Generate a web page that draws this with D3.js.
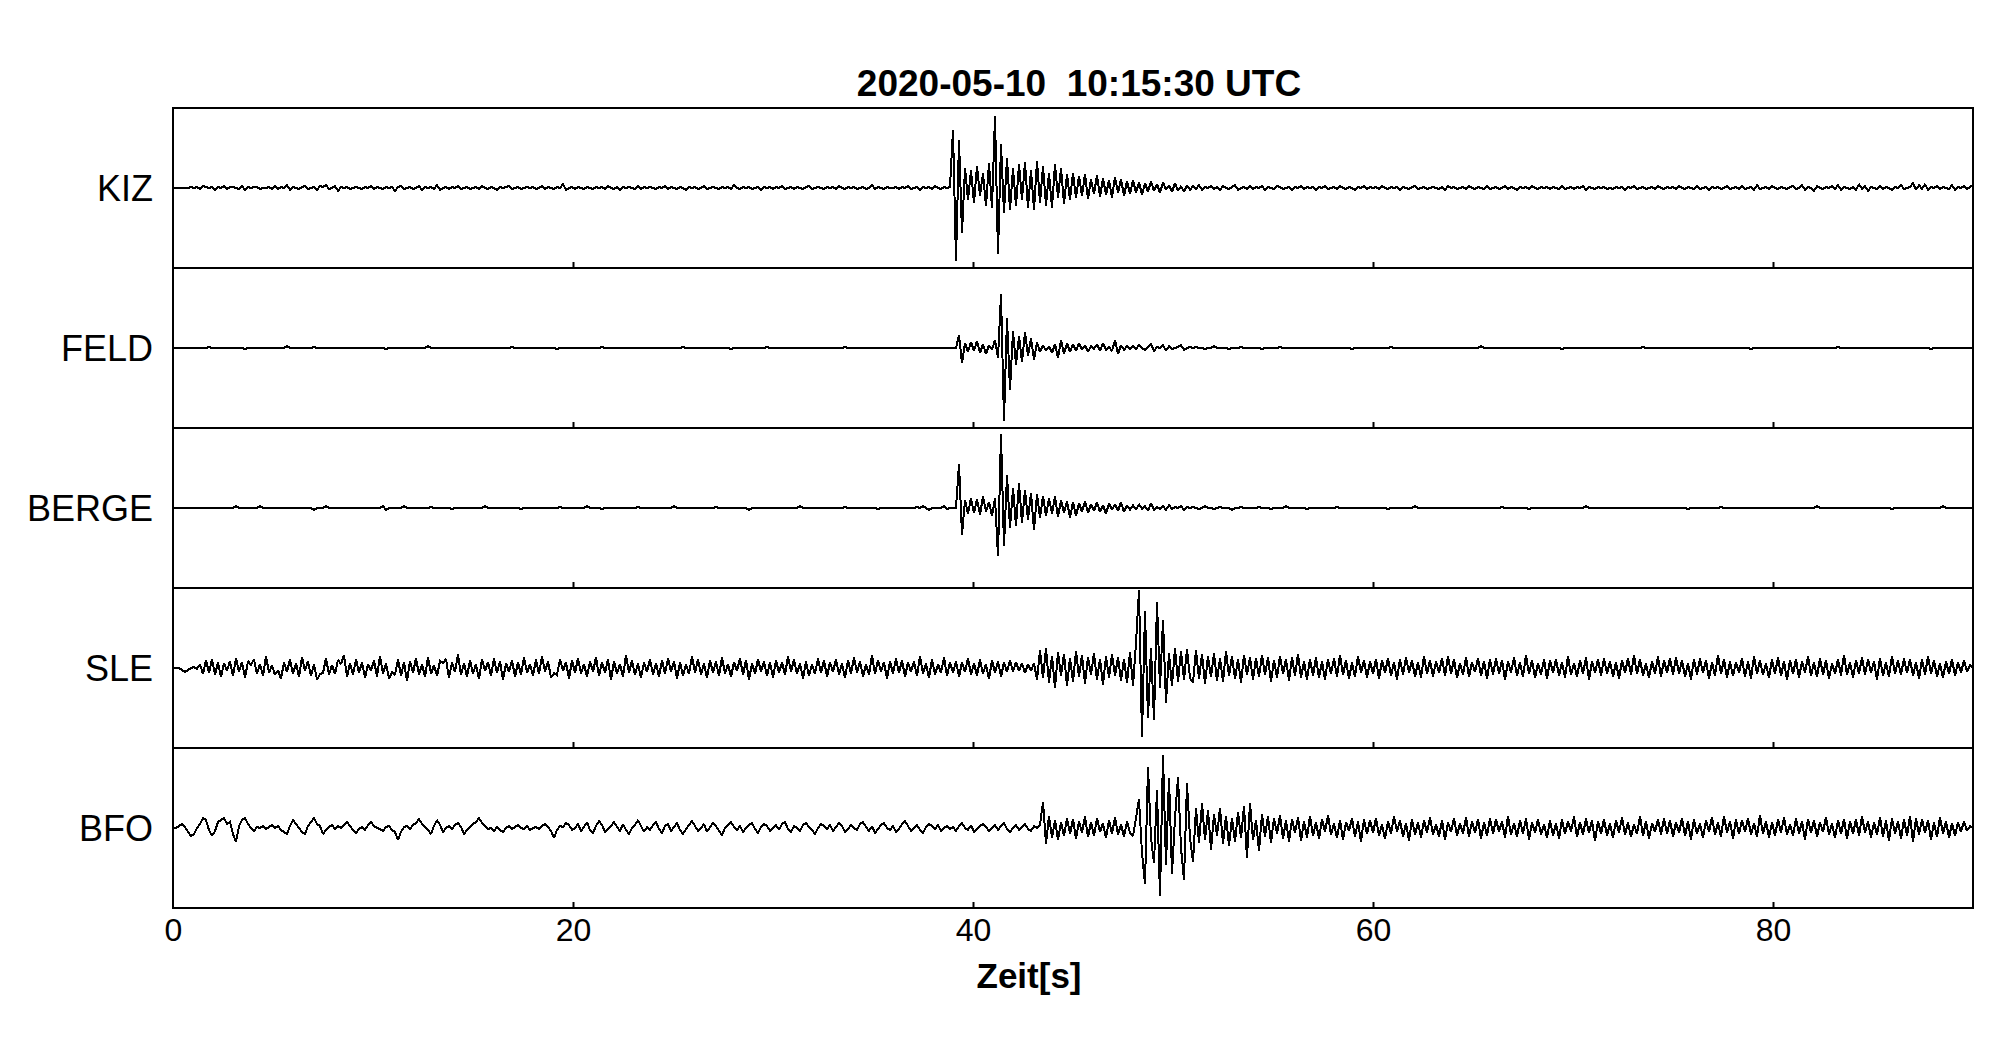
<!DOCTYPE html>
<html>
<head>
<meta charset="utf-8">
<script src="https://cdn.jsdelivr.net/npm/d3@7"></script>
<style>
  html, body { margin: 0; padding: 0; background: #fff; }
  svg { display: block; }
</style>
</head>
<body>
<div id="chart"></div>
<script>
// ---------------- data ----------------
const title = "2020-05-10  10:15:30 UTC";
const xLabel = "Zeit[s]";
const stations = ["KIZ", "FELD", "BERGE", "SLE", "BFO"];
const xTicks = [0, 20, 40, 60, 80];
const xDomain = [0, 90];
const sampleInterval = 0.15; // seconds between samples
const ampDomain = [-80, 80];

const kiz = [
0,0,0,0,0,0,1,0,1,-1,2,1,0,1,-2,1,0,2,-1,1,
1,0,-1,2,-2,1,0,1,1,-1,0,0,1,-1,2,-1,1,0,3,-2,
1,0,-1,1,2,-1,0,1,-2,2,1,3,-1,0,2,-3,1,0,1,-1,
0,1,0,-1,1,0,2,-1,1,0,-1,1,0,1,-3,1,2,-1,0,1,
-1,0,2,-2,1,0,1,-1,3,-2,0,1,-1,1,0,2,-1,0,1,-1,
0,1,-1,2,0,-1,1,0,-2,1,0,1,2,-1,0,1,-1,0,1,0,
1,-1,0,2,-1,1,0,-1,1,0,4,-2,0,1,-1,1,0,-1,1,0,
-1,1,0,1,-1,2,0,-1,1,-2,1,0,1,0,-1,2,-1,1,0,1,
0,-1,1,0,2,-1,1,0,-1,1,0,-2,1,0,1,-1,0,2,-1,0,
1,0,-1,1,0,1,-1,3,0,-1,1,0,1,-1,0,1,-2,1,0,1,
-1,1,0,2,-1,0,1,-1,1,0,-1,1,2,-1,0,1,0,-1,1,0,
1,-1,2,0,-1,1,0,1,-1,0,1,-1,0,3,-1,1,0,-1,1,0,
0,1,-1,1,0,2,-1,0,1,-2,1,0,1,-1,2,0,-1,1,0,1,
58,-73,48,-45,20,-12,18,-15,22,-8,15,-18,25,-20,72,-66,44,-25,30,-22,
20,-18,24,-12,26,-20,18,-22,27,-15,22,-18,15,-20,24,-10,20,-16,14,-12,
15,-10,12,-8,14,-11,9,-6,13,-9,10,-7,8,-10,11,-5,9,-8,7,-6,
8,-5,6,-7,5,-4,7,-3,4,-5,6,-2,3,-4,5,-3,2,-4,3,-2,
2,-1,3,-2,1,0,2,-1,1,-2,2,0,-1,1,3,-2,0,1,-1,2,
-1,1,0,2,-2,1,0,-1,2,1,-1,0,1,-2,1,0,2,-1,1,0,
1,-2,1,0,2,-1,0,1,-1,2,0,-1,1,0,-2,1,0,2,-1,1,
0,1,-1,2,0,-1,1,0,1,-2,1,0,-1,1,2,-1,0,1,-1,0,
1,0,-1,1,-2,2,0,1,-1,0,1,-1,2,0,-1,1,0,-1,2,-1,
0,1,-1,0,2,-1,1,0,-2,1,0,1,-1,2,0,-1,1,0,1,-1,
1,0,-1,2,-1,0,1,-1,1,0,2,-2,1,0,-1,1,0,1,-1,0,
-1,1,0,1,-2,1,0,2,-1,0,1,-1,0,1,-1,2,0,-1,1,0,
1,-1,2,0,-1,1,0,-1,2,-1,0,1,-2,1,0,1,-1,0,2,-1,
0,1,-1,2,-1,0,1,-2,3,-1,0,1,-1,2,0,-1,1,0,-1,1,
2,-1,0,3,-2,1,0,-3,2,0,-1,1,0,2,-1,3,-2,1,0,-1,
1,-2,4,-1,2,-3,1,0,-1,2,-1,1,0,-2,1,0,3,-1,0,1,
5,-2,3,-1,4,-2,1,0,2,-1,1,0,-1,3,-2,1,0,2,-1,1,
3];

const feld = [
0,0,0,0,0,0,0,0,0,0,0,0,1,0,0,0,0,0,0,0,
0,0,0,0,-1,0,0,0,0,0,0,0,0,0,0,0,0,0,2,0,
0,0,0,0,0,0,0,1,0,0,0,0,0,0,0,0,0,0,0,0,
0,0,0,0,0,0,0,0,0,0,0,-1,0,0,0,0,0,0,0,0,
0,0,0,0,0,2,0,0,0,0,0,0,0,0,0,0,0,0,0,0,
0,0,0,0,0,0,0,0,0,0,0,0,0,1,0,0,0,0,0,0,
0,0,0,0,0,0,0,0,-1,0,0,0,0,0,0,0,0,0,0,0,
0,0,0,1,0,0,0,0,0,0,0,0,0,0,0,0,0,0,0,0,
0,0,0,0,0,0,0,0,0,0,1,0,0,0,0,0,0,0,0,0,
0,0,0,0,0,0,-1,0,0,0,0,0,0,0,0,0,0,0,1,0,
0,0,0,0,0,0,0,0,0,0,0,0,0,0,0,0,0,0,0,0,
0,0,0,0,1,0,0,0,0,0,0,0,0,0,0,0,0,0,0,0,
0,0,0,0,0,0,0,0,0,0,0,0,0,0,0,0,0,0,0,0,
0,0,13,-15,5,-4,6,-3,7,-5,4,-6,3,-2,8,-10,54,-73,30,-42,
17,-17,12,-14,16,-8,10,-12,6,-4,3,-3,2,-5,4,-10,8,-6,5,-4,
4,-3,5,-2,3,-4,2,-1,4,-3,5,-2,1,-3,8,-6,3,-2,2,-1,
2,-1,3,0,-2,1,4,-3,1,0,3,-3,2,-1,0,1,3,-2,0,1,
0,1,0,0,-1,0,0,2,0,0,0,0,-1,0,0,0,1,0,0,0,
0,0,0,-1,0,0,0,0,0,1,0,0,0,0,0,0,0,0,0,0,
0,0,0,0,0,0,0,0,0,0,0,0,0,-1,0,0,0,0,0,0,
0,0,0,0,0,0,1,0,0,0,0,0,0,0,0,0,0,0,0,0,
0,0,0,0,0,0,0,0,0,0,0,0,0,0,0,0,2,0,0,0,
0,0,0,0,0,0,0,0,0,0,0,0,0,0,0,0,0,0,0,0,
0,0,0,-1,0,0,0,0,0,0,0,0,0,0,0,0,0,0,0,0,
0,0,0,0,0,0,0,0,0,0,1,0,0,0,0,0,0,0,0,0,
0,0,0,0,0,0,0,0,0,0,0,0,0,0,0,0,0,0,0,0,
0,0,0,0,0,0,-1,0,0,0,0,0,0,0,0,0,0,0,0,0,
0,0,0,0,0,0,0,0,0,0,0,0,0,0,0,1,0,0,0,0,
0,0,0,0,0,0,0,0,0,0,0,0,0,0,0,0,0,0,0,0,
0,0,0,0,0,0,-1,0,0,0,0,0,0,0,0,0,0,0,0,0,
0];

const berge = [
0,0,0,0,0,0,0,0,0,0,0,0,0,0,0,0,0,0,0,0,
0,2,0,0,0,0,0,0,0,2,0,0,0,0,0,0,0,0,0,0,
0,0,0,0,0,0,0,-2,0,0,0,2,0,0,0,0,0,0,0,0,
0,0,0,0,0,0,0,0,0,0,2,-2,0,0,0,0,0,2,0,0,
0,0,0,0,0,0,1,0,0,0,0,0,0,-1,0,0,0,0,0,0,
0,0,0,0,2,0,0,0,0,0,0,0,0,0,0,0,-1,0,0,0,
0,0,0,0,0,0,0,0,0,1,0,0,0,0,0,0,0,0,2,0,
0,0,0,-1,0,0,0,0,0,0,0,0,0,0,0,1,0,0,0,0,
0,0,0,0,0,0,0,2,0,0,0,0,0,0,0,0,0,0,0,0,
0,1,0,0,0,0,0,0,0,0,0,0,-2,0,0,0,0,0,0,0,
0,0,0,0,0,0,0,0,0,2,0,0,0,0,0,0,0,0,0,0,
0,0,0,0,1,0,0,0,0,0,0,0,0,0,0,-1,0,0,0,0,
0,0,0,0,0,0,0,0,1,0,2,0,-2,0,0,0,0,2,-1,0,
0,0,44,-27,8,-6,10,-5,9,-7,12,-4,6,-8,10,-48,74,-38,33,-20,
20,-18,25,-15,18,-12,15,-22,14,-10,12,-8,10,-6,12,-9,8,-5,7,-10,
6,-8,5,-4,7,-5,4,-3,6,-4,3,-6,5,-2,4,-3,6,-4,3,-2,
3,-2,4,-1,2,-3,5,-2,1,-1,2,-2,3,-1,1,0,2,-2,1,0,
1,0,-1,0,2,0,0,-1,0,1,0,0,0,-2,0,0,1,0,0,0,
0,0,1,0,0,0,-1,0,0,0,0,2,0,0,0,0,0,0,-1,0,
0,0,0,0,0,0,0,0,1,0,0,0,0,0,0,0,0,0,0,0,
0,0,0,0,0,-1,0,0,0,0,0,0,0,0,2,0,0,0,0,0,
0,0,0,0,0,0,0,0,0,0,0,0,0,0,0,0,0,0,0,0,
0,0,0,1,0,0,0,0,0,0,0,0,-1,0,0,0,0,0,0,0,
0,0,0,0,0,0,0,0,0,0,0,2,0,0,0,0,0,0,0,0,
0,0,0,0,0,0,0,0,0,0,0,0,0,0,0,0,0,0,0,0,
0,0,0,0,0,-1,0,0,0,0,0,0,0,0,0,0,1,0,0,0,
0,0,0,0,0,0,0,0,0,0,0,0,0,0,0,0,0,0,0,0,
0,0,0,0,0,0,0,0,2,0,0,0,0,0,0,0,0,0,0,0,
0,0,0,0,0,0,0,0,0,0,0,0,0,-1,0,0,0,0,0,0,
0,0,0,0,0,0,0,0,0,0,2,0,0,0,0,0,0,0,0,0,
0];

const sle = [
0,0,0,-2,-4,-2,0,1,-1,4,-6,8,-5,9,-7,6,-9,5,-3,7,
-8,10,-4,6,-10,7,3,9,-6,4,-8,12,-5,3,-7,-2,-11,6,-4,9,
-6,5,-9,11,-3,7,-8,4,-12,-6,-5,10,-7,3,-6,8,4,13,-9,5,
-7,9,-5,6,-10,4,-3,8,-9,12,-6,5,-11,-4,-7,9,-8,6,-13,7,
-5,10,-7,4,-9,11,-6,3,-8,7,5,9,-10,6,-4,14,-7,5,-9,8,
-6,4,-11,9,-3,6,-8,10,-5,7,-12,5,-4,8,-9,6,-7,11,-5,4,
-8,9,-6,12,-4,7,-10,-5,-7,9,-3,6,-11,8,-5,10,-6,4,-9,7,
-4,11,-8,6,-5,9,-12,7,-6,4,-9,13,-5,8,-7,5,-10,6,-4,9,
-7,5,-9,8,-6,10,-4,7,-11,6,-8,4,-6,12,-5,9,-7,5,-10,8,
-5,7,-8,11,-6,4,-9,6,-3,10,-7,8,-12,5,-6,9,-4,7,-8,6,
-10,8,-5,6,-7,12,-4,9,-6,5,-11,7,-8,4,-6,10,-5,8,-9,6,
-4,9,-7,5,-10,8,-6,11,-5,7,-9,4,-7,13,-6,8,-4,6,-11,7,
-6,10,-5,8,-9,6,-4,7,-8,12,-6,5,-10,9,-7,4,-5,11,-8,6,
-5,7,-9,6,-4,10,-7,5,-8,9,-6,4,-11,8,-5,7,-9,6,-4,8,
-4,6,-3,5,-5,4,-3,5,-12,18,-10,20,-15,12,-20,16,-8,14,-18,10,
-14,17,-9,13,-16,11,-7,15,-12,9,-17,12,-10,14,-8,11,-13,9,-15,16,
-18,25,78,-69,57,-50,20,-52,66,-20,48,-35,15,-18,20,-14,17,-12,19,-10,
-15,18,-11,14,-16,12,-9,15,-13,10,-14,17,-8,12,-11,9,-15,13,-7,11,
-12,10,-9,13,-7,11,-14,8,-10,12,-6,9,-13,11,-8,14,-10,7,-12,9,
-8,11,-10,7,-12,9,-6,10,-9,13,-7,8,-11,6,-9,12,-5,8,-10,7,
-6,9,-11,8,-5,10,-8,6,-12,9,-7,11,-5,8,-9,6,-10,12,-6,8,
-9,7,-5,10,-8,12,-6,9,-10,5,-7,11,-9,6,-4,10,-8,7,-11,9,
-7,10,-6,8,-12,7,-5,11,-8,6,-9,13,-6,8,-10,5,-7,9,-11,8,
-5,9,-8,6,-10,12,-7,5,-9,8,-6,11,-12,7,-5,9,-8,10,-6,7,
-9,6,-11,8,-5,10,-7,13,-6,9,-8,5,-10,7,-6,12,-9,8,-5,10,
-7,11,-6,8,-9,5,-12,9,-7,10,-5,8,-11,6,-8,13,-6,9,-10,7,
-8,6,-5,10,-9,7,-11,12,-6,8,-7,5,-10,9,-6,11,-8,7,-12,8,
-6,9,-10,7,-5,12,-8,6,-9,10,-7,8,-11,5,-6,9,-8,13,-7,6,
-10,8,-6,11,-7,9,-5,7,-12,10,-8,6,-9,12,-6,8,-7,10,-5,9,
-8,6,-11,9,-7,12,-6,8,-9,5,-10,7,-6,9,-8,6,-5,8,-4,3,
0];

const bfo = [
0,0,2,4,1,-4,-8,-6,0,4,10,8,-2,-8,-3,6,8,10,4,6,
-6,-14,2,8,10,4,0,-3,1,0,2,-1,1,3,0,2,-2,-4,-6,2,
8,4,0,-4,-6,2,6,10,4,2,-6,-2,1,3,-1,2,0,3,6,2,
-2,-5,-1,1,-2,3,6,2,0,-1,-3,1,2,-2,-4,-12,-4,1,2,-1,
3,5,9,4,1,-2,-6,2,8,3,-4,0,2,-1,3,5,1,-6,-2,1,
4,6,10,5,2,-1,0,-3,1,-2,-4,0,2,-1,1,3,0,-1,2,-2,
0,1,-1,2,4,1,-3,-10,-2,2,1,5,3,-2,0,4,-3,1,6,-2,
-5,2,7,3,-4,-1,2,6,1,-3,4,-2,-6,0,3,8,2,-4,1,-2,
3,6,-1,-5,2,4,-3,1,5,-2,-6,-1,3,7,2,-3,0,4,-4,1,
5,2,-3,-7,0,3,6,1,-2,2,-4,0,3,5,-1,-5,1,4,2,-3,
0,3,-2,4,6,-1,-4,2,0,-3,3,5,1,-2,-6,0,4,2,-1,3,
-3,1,5,2,-4,-1,3,0,-2,4,6,1,-3,2,-5,-1,3,5,0,-2,
2,-4,-1,4,7,2,-3,0,3,-2,-5,1,4,2,-1,3,-3,0,2,-1,
1,-3,2,5,0,-2,3,-4,-1,2,4,1,-3,0,3,-2,2,5,-1,-4,
0,3,-2,1,4,-1,-3,2,0,3,26,-16,12,-10,8,-12,6,-8,10,-6,
9,-11,7,-5,12,-9,6,-8,10,-4,5,-10,8,-6,11,-7,4,-9,7,-5,
-8,10,29,-25,-56,61,-10,-35,38,-68,73,-37,50,-46,10,51,-20,-52,45,-10,
-34,20,-15,25,-12,18,-22,14,-8,20,-16,12,-18,10,-14,16,-10,22,-30,25,
-12,8,-23,14,-9,12,-15,10,-6,13,-11,8,-14,9,-5,11,-13,7,-10,12,
-8,6,-11,9,-4,13,-7,5,-10,8,-12,6,-3,10,-9,7,-14,9,-6,8,
-5,10,-8,4,-11,7,-6,12,-4,8,-9,5,-13,9,-7,6,-10,8,-5,11,
-7,4,-9,8,-12,6,-4,10,-8,5,-6,11,-9,7,-5,9,-11,6,-8,10,
-6,9,-4,7,-10,12,-7,5,-9,8,-6,10,-12,6,-5,9,-7,4,-10,8,
-8,5,-11,9,-6,7,-4,12,-9,6,-7,10,-5,8,-13,7,-6,9,-8,5,
-10,8,-5,11,-7,6,-9,4,-6,12,-8,7,-11,5,-4,9,-7,10,-6,8,
-9,6,-5,10,-8,7,-12,9,-6,5,-10,8,-4,11,-7,6,-9,12,-5,7,
-11,9,-6,8,-4,10,-7,5,-9,13,-6,7,-10,6,-8,9,-5,11,-7,4,
-8,10,-6,7,-12,9,-5,8,-9,6,-4,11,-7,5,-10,8,-6,9,-11,7,
-6,9,-8,12,-5,7,-10,6,-7,11,-9,8,-13,10,-6,7,-11,9,-8,12,
-14,10,-7,9,-5,8,-12,6,-9,11,-6,7,-10,5,-8,6,-4,7,-3,2,
0];

const traces = [kiz, feld, berge, sle, bfo];

// ---------------- layout ----------------
const W = 2005, H = 1041;
const plotLeft = 173, plotRight = 1973, plotTop = 108, panelH = 160;
const plotBottom = plotTop + panelH * stations.length;
const font = "'Liberation Sans', Arial, Helvetica, sans-serif";

const svg = d3.select("#chart").append("svg")
  .attr("width", W).attr("height", H)
  .style("font-family", font);

const x = d3.scaleLinear().domain(xDomain).range([plotLeft, plotRight]);

// title
svg.append("text")
  .attr("x", 1079).attr("y", 96)
  .attr("text-anchor", "middle")
  .style("white-space", "pre")
  .attr("font-size", 37).attr("font-weight", "bold")
  .text(title);

const line = d3.line().curve(d3.curveLinear);

stations.forEach((name, p) => {
  const top = plotTop + p * panelH;
  const y = d3.scaleLinear().domain(ampDomain).range([top + panelH, top]);
  const g = svg.append("g");

  // trace
  g.append("path")
    .datum(traces[p])
    .attr("fill", "none")
    .attr("stroke", "#000")
    .attr("stroke-width", 2)
    .attr("stroke-linejoin", "miter")
    .attr("stroke-miterlimit", 2)
    .attr("shape-rendering", "crispEdges")
    .attr("d", line.x((d, i) => x(i * sampleInterval)).y(d => y(d)));

  // station label
  g.append("text")
    .attr("x", 153).attr("y", y(0) + 13)
    .attr("text-anchor", "end")
    .attr("font-size", 36)
    .text(name);

  // inner ticks on each panel's bottom edge
  const ax = d3.axisBottom(x)
    .tickValues(xTicks.filter(v => v > xDomain[0]))
    .tickSizeInner(-6).tickSizeOuter(0)
    .tickFormat("");
  const ag = g.append("g").attr("transform", `translate(0,${top + panelH})`).call(ax);
  ag.select(".domain").remove();
  ag.selectAll(".tick line").attr("stroke", "#000").attr("stroke-width", 2);

  // panel frame
  g.append("rect")
    .attr("x", plotLeft).attr("y", top)
    .attr("width", plotRight - plotLeft).attr("height", panelH)
    .attr("fill", "none").attr("stroke", "#000").attr("stroke-width", 2);
});

// bottom axis labels
const bx = d3.axisBottom(x).tickValues(xTicks).tickSize(0).tickPadding(10)
  .tickFormat(d3.format("d"));
const bg = svg.append("g").attr("transform", `translate(0,${plotBottom})`).call(bx);
bg.select(".domain").remove();
bg.selectAll(".tick text")
  .attr("font-size", 32)
  .attr("font-family", font)
  .attr("fill", "#000");

// x label
svg.append("text")
  .attr("x", 1029).attr("y", 988)
  .attr("text-anchor", "middle")
  .attr("font-size", 35).attr("font-weight", "bold")
  .text(xLabel);
</script>
</body>
</html>
